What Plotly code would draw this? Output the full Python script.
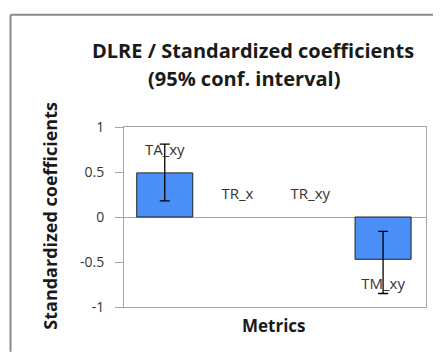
import plotly.graph_objects as go

# ---- data ----
categories = ["TA_xy", "TR_x", "TR_xy", "TM_xy"]
coefficients = [0.49, 0.0, 0.0, -0.47]
err_plus = [0.32, 0.0, 0.0, 0.31]
err_minus = [0.31, 0.0, 0.0, 0.38]
y_ticks = [-1, -0.5, 0, 0.5, 1]
y_tick_labels = ["-1", "-0.5", "0", "0.5", "1"]
title_lines = ["DLRE / Standardized coefficients", "(95% conf. interval)"]
x_title = "Metrics"
y_title = "Standardized coefficients"

FONT = "Open Sans, Lato, sans-serif"
OFF = 8  # page body margin offset
W, H = 444 - 2 * OFF, 363 - 2 * OFF
ML, MT = 124 - OFF, 127.3 - OFF
MR = W - (426 - OFF)
MB = H - (307.3 - OFF)
PW, PH = W - ML - MR, H - MT - MB


def px_x(x):
    return (x - OFF - ML) / PW


def px_y(y):
    return (H - MB - (y - OFF)) / PH


fig = go.Figure()
fig.add_trace(go.Bar(
    x=categories,
    y=coefficients,
    width=0.77,
    marker=dict(color="#4a8ff7",
                line=dict(color="#222222", width=[1 if v else 0 for v in coefficients])),
    hoverinfo="skip",
    showlegend=False,
))

# error bars only where a confidence interval exists
idx = [i for i, (p, m) in enumerate(zip(err_plus, err_minus)) if p or m]
fig.add_trace(go.Scatter(
    x=[categories[i] for i in idx],
    y=[coefficients[i] for i in idx],
    mode="markers", marker=dict(size=0.1, opacity=0),
    error_y=dict(
        type="data", symmetric=False,
        array=[err_plus[i] for i in idx],
        arrayminus=[err_minus[i] for i in idx],
        color="black", thickness=1.3, width=5,
    ),
    hoverinfo="skip", showlegend=False,
))

label_y = [v + 0.245 if v >= 0 else v - 0.29 for v in coefficients]
fig.add_trace(go.Scatter(
    x=categories, y=label_y, mode="text", text=categories,
    textposition="middle center",
    textfont=dict(family=FONT, size=15, color="#333333"),
    showlegend=False, hoverinfo="skip", cliponaxis=False,
))

frame = dict(color="#8a8a8a", width=2)
fig.update_layout(
    width=W, height=H,
    margin=dict(l=ML, r=MR, t=MT, b=MB),
    paper_bgcolor="white", plot_bgcolor="white",
    font=dict(family=FONT, color="#333333"),
    xaxis=dict(
        type="category", range=[-0.56, 3.59],
        showticklabels=False, ticks="",
        showline=True, mirror=True, linecolor="#a6a6a6", linewidth=1,
        showgrid=False, zeroline=False,
    ),
    yaxis=dict(
        range=[-1, 1], tickvals=y_ticks, ticktext=y_tick_labels,
        ticks="outside", ticklen=8, tickcolor="#a6a6a6", tickwidth=1,
        ticklabelstandoff=8,
        tickfont=dict(family=FONT, size=14, color="#333333"),
        showline=True, mirror=True, linecolor="#a6a6a6", linewidth=1,
        showgrid=False,
        zeroline=True, zerolinecolor="#a6a6a6", zerolinewidth=1,
    ),
    shapes=[
        dict(type="line", xref="paper", yref="paper",
             x0=px_x(10.5), x1=px_x(10.5), y0=px_y(H + OFF - 3), y1=px_y(15),
             line=frame, layer="below"),
        dict(type="line", xref="paper", yref="paper",
             x0=px_x(10.5), x1=px_x(W + OFF - 3), y0=px_y(15), y1=px_y(15),
             line=frame, layer="below"),
    ],
    annotations=[
        dict(text="<b>%s</b>" % title_lines[0], xref="paper", yref="paper",
             x=px_x(253), y=px_y(51), xanchor="center", yanchor="middle",
             showarrow=False, font=dict(family=FONT, size=20, color="#1a1a1a")),
        dict(text="<b>%s</b>" % title_lines[1], xref="paper", yref="paper",
             x=px_x(244), y=px_y(79), xanchor="center", yanchor="middle",
             showarrow=False, font=dict(family=FONT, size=20, color="#1a1a1a")),
        dict(text="<b>%s</b>" % x_title, xref="paper", yref="paper",
             x=px_x(274), y=px_y(326), xanchor="center", yanchor="middle",
             showarrow=False, font=dict(family=FONT, size=17, color="#1a1a1a")),
        dict(text="<b>%s</b>" % y_title, xref="paper", yref="paper",
             x=px_x(50), y=px_y(216), xanchor="center", yanchor="middle",
             textangle=-90,
             showarrow=False, font=dict(family=FONT, size=18, color="#1a1a1a")),
    ],
)

fig.write_html("out.html")
